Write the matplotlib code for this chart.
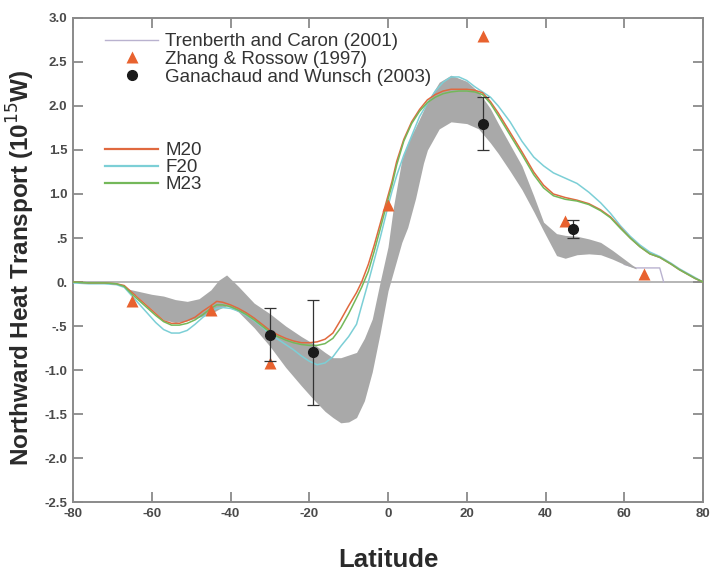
import numpy as np
import matplotlib
matplotlib.use("Agg")
import matplotlib.pyplot as plt
from matplotlib.legend_handler import HandlerLine2D

plt.rcParams['font.family'] = ['Liberation Sans', 'DejaVu Sans']

# Trenberth and Caron (2001) range (grey band)
band_lat = [-66, -64, -62, -60, -57, -54, -51, -48, -45, -43, -41, -38, -34, -30,
            -26, -22, -19, -16, -14, -12, -10, -8, -6, -4, -2, 0, 1.4, 3.5, 5,
            7, 9, 10, 13, 16, 20, 23, 26, 28, 31, 34, 37, 39.5, 42.8, 45, 48,
            51, 54, 57, 60, 63]
band_hi = [-0.08, -0.10, -0.12, -0.14, -0.16, -0.20, -0.22, -0.19, -0.09, 0.02,
           0.08, -0.05, -0.24, -0.36, -0.50, -0.62, -0.70, -0.80, -0.86, -0.86,
           -0.83, -0.80, -0.64, -0.42, 0.00, 0.40, 0.86, 1.39, 1.58, 1.76,
           1.95, 2.05, 2.27, 2.35, 2.28, 2.16, 1.97, 1.80, 1.56, 1.32, 0.98,
           0.68, 0.55, 0.53, 0.52, 0.49, 0.45, 0.36, 0.26, 0.16]
band_lo = [-0.10, -0.15, -0.23, -0.31, -0.43, -0.46, -0.44, -0.40, -0.36, -0.31,
           -0.27, -0.34, -0.52, -0.73, -0.97, -1.18, -1.33, -1.47, -1.54, -1.60,
           -1.59, -1.54, -1.35, -1.02, -0.58, -0.10, 0.12, 0.45, 0.62, 0.95,
           1.35, 1.50, 1.74, 1.82, 1.80, 1.74, 1.58, 1.46, 1.26, 1.05, 0.80,
           0.58, 0.30, 0.27, 0.31, 0.32, 0.31, 0.26, 0.20, 0.15]

# Trenberth and Caron tail beyond the band
tc_lat = [60, 63, 64, 69, 70]
tc_val = [0.20, 0.16, 0.16, 0.16, 0.0]

# Model runs
lat = [-80, -76, -72, -69, -67, -65, -63, -61, -59, -57, -55, -53, -51, -49, -47,
       -45, -43.5, -42, -40, -38, -36, -34, -32, -30, -28, -26, -24, -22, -20,
       -18, -16, -14, -12, -10, -8, -6.7, -5, -3.5, -2, -1, 0, 1, 2.2, 4, 6, 8,
       10, 12, 14, 16, 18, 20, 22, 24, 26, 28, 31, 34, 37, 39.5, 42, 45, 48,
       51, 54, 56.5, 59, 61.5, 64, 66.5, 69, 72, 74, 76, 78, 80]
m20 = [0.0, -0.01, -0.01, -0.02, -0.04, -0.12, -0.20, -0.28, -0.36, -0.44, -0.47,
       -0.47, -0.44, -0.40, -0.33, -0.27, -0.22, -0.23, -0.26, -0.30, -0.35,
       -0.41, -0.48, -0.55, -0.60, -0.64, -0.67, -0.69, -0.69, -0.68, -0.65,
       -0.58, -0.43, -0.27, -0.12, 0.00, 0.20, 0.42, 0.66, 0.82, 0.98, 1.14,
       1.37, 1.62, 1.82, 1.96, 2.07, 2.13, 2.17, 2.19, 2.19, 2.19, 2.18, 2.15,
       2.05, 1.92, 1.70, 1.48, 1.25, 1.10, 1.00, 0.96, 0.93, 0.89, 0.82, 0.74,
       0.62, 0.50, 0.40, 0.32, 0.28, 0.20, 0.14, 0.09, 0.04, 0.0]
f20 = [-0.01, -0.02, -0.02, -0.03, -0.06, -0.16, -0.26, -0.36, -0.46, -0.54,
       -0.58, -0.58, -0.55, -0.48, -0.40, -0.34, -0.30, -0.29, -0.30, -0.33,
       -0.38, -0.44, -0.51, -0.59, -0.65, -0.71, -0.77, -0.84, -0.90, -0.94,
       -0.92, -0.85, -0.73, -0.62, -0.48, -0.27, 0.00, 0.25, 0.50, 0.68, 0.86,
       1.03, 1.21, 1.44, 1.66, 1.88, 2.03, 2.17, 2.27, 2.33, 2.33, 2.29, 2.22,
       2.16, 2.10, 2.00, 1.82, 1.60, 1.42, 1.32, 1.24, 1.18, 1.12, 1.02, 0.90,
       0.78, 0.64, 0.52, 0.42, 0.34, 0.29, 0.21, 0.15, 0.10, 0.05, 0.0]
m23 = [0.0, -0.01, -0.01, -0.02, -0.05, -0.14, -0.22, -0.30, -0.38, -0.45,
       -0.49, -0.49, -0.47, -0.43, -0.37, -0.30, -0.26, -0.26, -0.28, -0.32,
       -0.37, -0.43, -0.50, -0.57, -0.62, -0.66, -0.69, -0.71, -0.72, -0.72,
       -0.70, -0.64, -0.52, -0.36, -0.18, -0.06, 0.12, 0.35, 0.60, 0.77, 0.94,
       1.10, 1.33, 1.60, 1.80, 1.94, 2.04, 2.10, 2.14, 2.16, 2.17, 2.17, 2.16,
       2.13, 2.03, 1.89, 1.67, 1.45, 1.22, 1.07, 0.98, 0.94, 0.92, 0.88, 0.81,
       0.73, 0.61, 0.50, 0.40, 0.32, 0.28, 0.20, 0.14, 0.09, 0.04, 0.0]

# Zhang & Rossow (1997)
zr_lat = [-65, -45, -30, 0, 24, 45, 65]
zr_val = [-0.22, -0.32, -0.92, 0.88, 2.79, 0.69, 0.09]

# Ganachaud and Wunsch (2003)
gw_lat = [-30, -19, 24, 47]
gw_val = [-0.60, -0.80, 1.80, 0.60]
gw_err = [0.30, 0.60, 0.30, 0.10]

ytick_vals = [-2.5, -2.0, -1.5, -1.0, -0.5, 0.0, 0.5, 1.0, 1.5, 2.0, 2.5, 3.0]
ytick_text = ['-2.5', '-2.0', '-1.5', '-1.0', '-.5', '0.', '.5', '1.0', '1.5',
              '2.0', '2.5', '3.0']
xtick_vals = [-80, -60, -40, -20, 0, 20, 40, 60, 80]

c_m20 = '#e0693f'
c_f20 = '#7ccfd6'
c_m23 = '#74b85a'
c_zr = '#e8622f'
c_tc = '#b9b2cf'
c_band = '#a9a9a9'
c_axis = '#8a8a8a'


class MarkerRight(HandlerLine2D):
    # put the single legend marker towards the right end of the handle
    def get_xdata(self, legend, xdescent, ydescent, width, height, fontsize):
        return [-xdescent, -xdescent + width], [-xdescent + 0.74 * width]


fig = plt.figure(figsize=(7.11, 5.71), dpi=100)
ax = fig.add_axes([0.1027, 0.1208, 0.8861, 0.8477])

ax.axhline(0, color='#b0b0b0', lw=1.3, zorder=1)
ax.plot(tc_lat, tc_val, color=c_tc, lw=1.0, zorder=1.5)
ax.fill_between(band_lat, band_lo, band_hi, color=c_band, lw=0, zorder=2)

ax.plot(lat, f20, color=c_f20, lw=1.1, zorder=3)
ax.plot(lat, m23, color=c_m23, lw=1.1, zorder=3.2)
ax.plot(lat, m20, color=c_m20, lw=1.1, zorder=3.1)

ax.errorbar(gw_lat, gw_val, yerr=gw_err, fmt='o', color='#1a1a1a', ms=7,
            elinewidth=0.9, ecolor='#333333', capsize=4, capthick=0.9, zorder=5)
ax.plot(zr_lat, zr_val, '^', color=c_zr, ms=8.5, mec='none', zorder=4)

ax.set_xlim(-80, 80)
ax.set_ylim(-2.5, 3.0)
ax.set_xticks(xtick_vals)
ax.set_xticklabels([str(v) for v in xtick_vals])
ax.set_yticks(ytick_vals)
ax.set_yticklabels(ytick_text)
ax.tick_params(direction='in', length=7, width=1.3, color=c_axis,
               top=True, right=True, labelsize=9.5, labelcolor='#4a4a4a', pad=4)
for lab in ax.get_xticklabels() + ax.get_yticklabels():
    lab.set_fontweight('bold')
for s in ax.spines.values():
    s.set_color(c_axis)
    s.set_linewidth(1.4)

ax.set_ylabel('Northward Heat Transport (10$^{15}$W)', fontsize=17.5,
              fontweight='bold', color='#2a2a2a')
ax.yaxis.set_label_coords(-0.057, 0.485)
ax.set_xlabel('Latitude', fontsize=18.5, fontweight='bold', color='#2a2a2a')
ax.xaxis.set_label_coords(0.5, -0.095)

# legends
h_tc, = ax.plot([], [], color=c_tc, lw=1.0)
h_zr, = ax.plot([], [], '^', color=c_zr, ms=8.5, mec='none')
h_gw, = ax.plot([], [], 'o', color='#1a1a1a', ms=7)
leg1 = ax.legend([h_tc, h_zr, h_gw],
                 ['Trenberth and Caron (2001)', 'Zhang & Rossow (1997)',
                  'Ganachaud and Wunsch (2003)'],
                 loc='upper left', bbox_to_anchor=(105 / 711, 1 - 33 / 571),
                 bbox_transform=fig.transFigure, frameon=False, borderpad=0,
                 borderaxespad=0, handlelength=2.85, handletextpad=0.37,
                 labelspacing=0.03, fontsize=13.5, numpoints=1,
                 handler_map={h_zr: MarkerRight(), h_gw: MarkerRight()})
for t in leg1.get_texts():
    t.set_color('#333333')
ax.add_artist(leg1)

h_m20, = ax.plot([], [], color=c_m20, lw=1.6)
h_f20, = ax.plot([], [], color=c_f20, lw=1.6)
h_m23, = ax.plot([], [], color=c_m23, lw=1.6)
leg2 = ax.legend([h_m20, h_f20, h_m23], ['M20', 'F20', 'M23'],
                 loc='upper left', bbox_to_anchor=(105 / 711, 1 - 142 / 571),
                 bbox_transform=fig.transFigure, frameon=False, borderpad=0,
                 borderaxespad=0, handlelength=2.85, handletextpad=0.37,
                 labelspacing=0.0, fontsize=13.5)
for t in leg2.get_texts():
    t.set_color('#333333')

fig.savefig('out.png', dpi=100)
